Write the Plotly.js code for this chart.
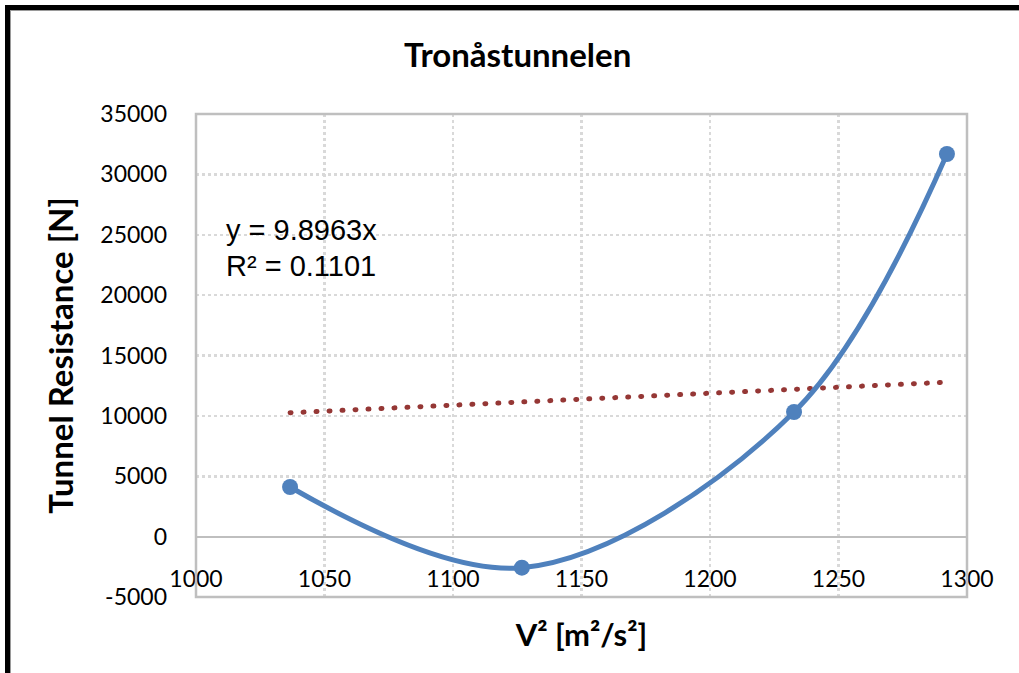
<!DOCTYPE html>
<html>
<head>
<meta charset="utf-8">
<script src="https://cdn.plot.ly/plotly-3.0.1.min.js"></script>
<style>
  html, body { margin: 0; padding: 0; background: #fff; }
  #wrap { position: relative; width: 1019px; height: 673px; }
  #chart { width: 1019px; height: 673px; }
  #frame { position: absolute; left: 5px; top: 5px; right: 0; bottom: 0;
           border-left: 5px solid #000; border-top: 5px solid #000; pointer-events: none;
           box-shadow: inset 1px 1px 0 #9a9a9a; }
  .scatterlayer .js-line { stroke-linecap: round !important; }
</style>
</head>
<body>
<div id="wrap"><div id="chart"></div><div id="frame"></div></div>
<script>
// Data
var vSquared   = [1036.6, 1126.8, 1232.7, 1292.2];
var resistance = [4110, -2570, 10320, 31690];

// Linear trendline (through origin) endpoints: y = 9.8963x
var trendX = [1036.6, 1292.2];
var trendY = [10260, 12790];

var xTicks = [1000, 1050, 1100, 1150, 1200, 1250, 1300];
var yTicks = [-5000, 0, 5000, 10000, 15000, 20000, 25000, 30000, 35000];
var equationLines = ['y = 9.8963x', 'R² = 0.1101'];

var yMin = -5000, yMax = 35000;
var zeroFrac = (0 - yMin) / (yMax - yMin);

var traces = [
  {
    x: trendX, y: trendY, mode: 'lines', type: 'scatter',
    line: { color: '#953735', width: 5, dash: '1px,12px' },
    hoverinfo: 'skip', showlegend: false
  },
  {
    x: vSquared, y: resistance, mode: 'lines+markers', type: 'scatter',
    line: { color: '#4f81bd', width: 5, shape: 'spline', smoothing: 1 },
    marker: { color: '#4f81bd', size: 16 },
    showlegend: false
  }
];

var tickFont = { family: 'Lato, Open Sans, sans-serif', size: 23, color: '#000' };
var eqFont = { family: 'Liberation Sans, Arial, sans-serif', size: 29, color: '#000' };

var layout = {
  width: 1019, height: 673,
  margin: { l: 196, r: 52, t: 114, b: 76 },
  paper_bgcolor: '#fff', plot_bgcolor: '#fff',
  title: {
    text: '<b>Tronåstunnelen</b>',
    font: { family: 'Lato, Open Sans, sans-serif', size: 33, color: '#000' },
    x: 0.508, xanchor: 'center', y: 0.918, yanchor: 'middle'
  },
  xaxis: {
    range: [1000, 1300], tickvals: xTicks, ticktext: xTicks.map(String),
    anchor: 'free', position: zeroFrac,
    showline: false, zeroline: false, ticks: '',
    ticklabelstandoff: 26,
    tickfont: tickFont,
    showgrid: true, gridcolor: '#d9d9d9', gridwidth: 2.5, griddash: '3px,3px',
    title: { text: '<b>V² [m²/s²]</b>',
             font: { family: 'Lato, Open Sans, sans-serif', size: 31, color: '#000' }, standoff: 33 }
  },
  yaxis: {
    range: [yMin, yMax], tickvals: yTicks, ticktext: yTicks.map(String),
    showline: false, ticks: '',
    ticklabelstandoff: 28,
    tickfont: tickFont,
    showgrid: true, gridcolor: '#d9d9d9', gridwidth: 2.5, griddash: '3px,3px',
    zeroline: true, zerolinecolor: '#bfbfbf', zerolinewidth: 2,
    title: { text: '<b>Tunnel Resistance [N]</b>',
             font: { family: 'Lato, Open Sans, sans-serif', size: 33, color: '#000' }, standoff: 16 }
  },
  shapes: [
    { type: 'rect', xref: 'x domain', yref: 'y domain', x0: 0, x1: 1, y0: 0, y1: 1,
      line: { color: '#bfbfbf', width: 2.5 }, layer: 'above' }
  ],
  annotations: [
    { text: equationLines[0], xref: 'paper', yref: 'paper', x: 0.036, y: 0.76,
      xanchor: 'left', yanchor: 'middle', showarrow: false, font: eqFont },
    { text: equationLines[1], xref: 'paper', yref: 'paper', x: 0.036, y: 0.686,
      xanchor: 'left', yanchor: 'middle', showarrow: false, font: eqFont }
  ]
};

Plotly.newPlot('chart', traces, layout, { displayModeBar: false, staticPlot: true });
</script>
</body>
</html>
